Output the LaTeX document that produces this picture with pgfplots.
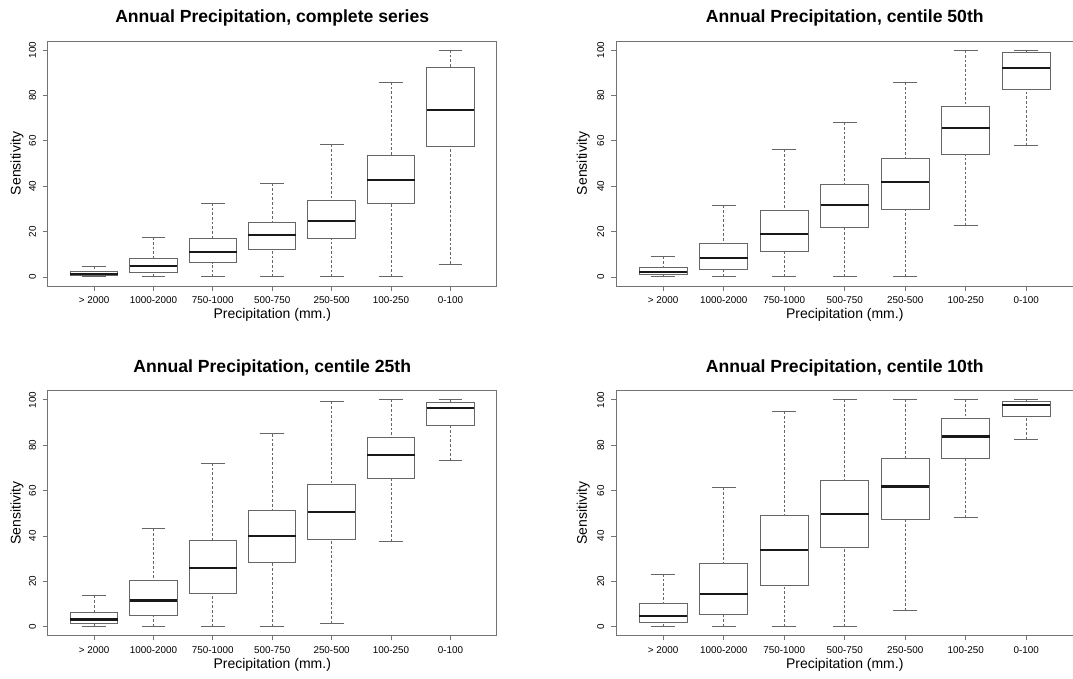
\documentclass[border=0pt]{standalone}
\usepackage{fontspec}
\setmainfont{Liberation Sans}
\usepackage{pgfplots}
\pgfplotsset{compat=1.18}
\usepgfplotslibrary{statistics}
\pgfplotsset{
  boxplot/draw/lower whisker/.code={%
    \draw[black!60, dash pattern=on 2pt off 1.5pt, line width=0.6pt]
      (boxplot box cs:\pgfplotsboxplotvalue{lower whisker},0.5) --
      (boxplot box cs:\pgfplotsboxplotvalue{lower quartile},0.5);
    \draw[black!60, line width=0.7pt]
      (boxplot whisker cs:\pgfplotsboxplotvalue{lower whisker},0) --
      (boxplot whisker cs:\pgfplotsboxplotvalue{lower whisker},1);
  },
  boxplot/draw/upper whisker/.code={%
    \draw[black!60, dash pattern=on 2pt off 1.5pt, line width=0.6pt]
      (boxplot box cs:\pgfplotsboxplotvalue{upper whisker},0.5) --
      (boxplot box cs:\pgfplotsboxplotvalue{upper quartile},0.5);
    \draw[black!60, line width=0.7pt]
      (boxplot whisker cs:\pgfplotsboxplotvalue{upper whisker},0) --
      (boxplot whisker cs:\pgfplotsboxplotvalue{upper whisker},1);
  },
  rbox/.style={
    scale only axis, height=183.75pt,
    xmin=0.22, xmax=7.78, ymin=-4, ymax=104,
    xtick={1,2,3,4,5,6,7},
    xticklabels={> 2000,1000-2000,750-1000,500-750,250-500,100-250,0-100},
    ytick={0,20,40,60,80,100},
    tick pos=left, tick align=outside, major tick length=3.5pt,
    axis line style={black!55, line width=0.7pt},
    tick style={black!55, line width=0.6pt},
    /pgf/number format/assume math mode=true,
    tick label style={font=\fontsize{7.4}{8}\selectfont},
    xticklabel style={anchor=center, yshift=-7pt},
    yticklabel style={xshift=-8pt, rotate=90, anchor=center},
    every axis title shift=0pt,
    title style={at={(rel axis cs:0.5,1.094)}, anchor=center, font=\fontsize{13.2}{15}\selectfont\bfseries},
    xlabel={Precipitation (mm.)},
    ylabel={Sensitivity},
    label style={font=\fontsize{10.5}{12}\selectfont},
    xlabel style={at={(rel axis cs:0.5,-0.118)}, anchor=center},
    clip=false,
    boxplot/draw direction=y,
    boxplot/box extend=0.8,
    boxplot/whisker extend=0.4,
    boxplot/every box/.style={draw=black!60, line width=0.75pt},
    boxplot/every median/.style={draw=black!90, line width=1.7pt},
  },
}
\begin{document}
\begin{tikzpicture}
\useasboundingbox (0,0) rectangle (804.75pt,508.5pt);
% Panel 1
\begin{axis}[rbox, at={(35.8pt,294pt)}, anchor=south west, width=336.75pt,
  title={Annual Precipitation, complete series},
  ylabel style={at={(rel axis cs:-0.0684,0.5)}, anchor=center}]
\addplot[boxplot prepared={draw position=1, lower whisker=0, lower quartile=0.7, median=1.3, upper quartile=2.3, upper whisker=4.8}] coordinates {};
\addplot[boxplot prepared={draw position=2, lower whisker=0, lower quartile=1.9, median=4.7, upper quartile=8.2, upper whisker=17.5}] coordinates {};
\addplot[boxplot prepared={draw position=3, lower whisker=0, lower quartile=6.3, median=11.0, upper quartile=16.9, upper whisker=32.6}] coordinates {};
\addplot[boxplot prepared={draw position=4, lower whisker=0, lower quartile=12.2, median=18.6, upper quartile=23.9, upper whisker=41.3}] coordinates {};
\addplot[boxplot prepared={draw position=5, lower whisker=0, lower quartile=17.0, median=24.8, upper quartile=33.5, upper whisker=58.4}] coordinates {};
\addplot[boxplot prepared={draw position=6, lower whisker=0.15, lower quartile=32.2, median=42.7, upper quartile=53.5, upper whisker=85.9}] coordinates {};
\addplot[boxplot prepared={draw position=7, lower whisker=5.7, lower quartile=57.6, median=73.6, upper quartile=92.2, upper whisker=100}] coordinates {};
\end{axis}
% Panel 2
\begin{axis}[rbox, at={(462pt,294pt)}, anchor=south west, width=343.1pt,
  title={Annual Precipitation, centile 50th},
  ylabel style={at={(rel axis cs:-0.0715,0.5)}, anchor=center}]
\addplot[boxplot prepared={draw position=1, lower whisker=0, lower quartile=1.0, median=2.2, upper quartile=4.3, upper whisker=9.1}] coordinates {};
\addplot[boxplot prepared={draw position=2, lower whisker=0, lower quartile=3.4, median=8.4, upper quartile=14.7, upper whisker=31.6}] coordinates {};
\addplot[boxplot prepared={draw position=3, lower whisker=0, lower quartile=11.2, median=18.9, upper quartile=29.2, upper whisker=56.2}] coordinates {};
\addplot[boxplot prepared={draw position=4, lower whisker=0, lower quartile=21.7, median=31.7, upper quartile=40.8, upper whisker=68.1}] coordinates {};
\addplot[boxplot prepared={draw position=5, lower whisker=0.3, lower quartile=29.7, median=41.7, upper quartile=52.0, upper whisker=85.8}] coordinates {};
\addplot[boxplot prepared={draw position=6, lower whisker=22.6, lower quartile=54.0, median=65.6, upper quartile=75.0, upper whisker=99.9}] coordinates {};
\addplot[boxplot prepared={draw position=7, lower whisker=57.9, lower quartile=82.7, median=92.2, upper quartile=99.0, upper whisker=100}] coordinates {};
\end{axis}
% Panel 3
\begin{axis}[rbox, at={(35.8pt,31.7pt)}, anchor=south west, width=336.75pt,
  title={Annual Precipitation, centile 25th},
  ylabel style={at={(rel axis cs:-0.0684,0.5)}, anchor=center}]
\addplot[boxplot prepared={draw position=1, lower whisker=0, lower quartile=1.3, median=3.1, upper quartile=6.2, upper whisker=13.7}] coordinates {};
\addplot[boxplot prepared={draw position=2, lower whisker=0, lower quartile=4.8, median=11.5, upper quartile=20.3, upper whisker=43.2}] coordinates {};
\addplot[boxplot prepared={draw position=3, lower whisker=0, lower quartile=14.7, median=25.7, upper quartile=37.9, upper whisker=72.1}] coordinates {};
\addplot[boxplot prepared={draw position=4, lower whisker=0, lower quartile=28.2, median=39.9, upper quartile=51.2, upper whisker=85.0}] coordinates {};
\addplot[boxplot prepared={draw position=5, lower whisker=1.5, lower quartile=38.3, median=50.7, upper quartile=62.8, upper whisker=99.4}] coordinates {};
\addplot[boxplot prepared={draw position=6, lower whisker=37.4, lower quartile=65.3, median=75.6, upper quartile=83.6, upper whisker=100}] coordinates {};
\addplot[boxplot prepared={draw position=7, lower whisker=73.1, lower quartile=88.7, median=96.3, upper quartile=99.0, upper whisker=100}] coordinates {};
\end{axis}
% Panel 4
\begin{axis}[rbox, at={(462pt,31.7pt)}, anchor=south west, width=343.1pt,
  title={Annual Precipitation, centile 10th},
  ylabel style={at={(rel axis cs:-0.0715,0.5)}, anchor=center}]
\addplot[boxplot prepared={draw position=1, lower whisker=0, lower quartile=1.9, median=4.6, upper quartile=10.3, upper whisker=23.2}] coordinates {};
\addplot[boxplot prepared={draw position=2, lower whisker=0, lower quartile=5.4, median=14.4, upper quartile=27.9, upper whisker=61.4}] coordinates {};
\addplot[boxplot prepared={draw position=3, lower whisker=0, lower quartile=18.2, median=33.9, upper quartile=48.9, upper whisker=94.9}] coordinates {};
\addplot[boxplot prepared={draw position=4, lower whisker=0, lower quartile=34.9, median=49.8, upper quartile=64.3, upper whisker=100}] coordinates {};
\addplot[boxplot prepared={draw position=5, lower whisker=7.0, lower quartile=47.4, median=61.8, upper quartile=74.3, upper whisker=100}] coordinates {};
\addplot[boxplot prepared={draw position=6, lower whisker=48.2, lower quartile=74.3, median=83.8, upper quartile=91.6, upper whisker=100}] coordinates {};
\addplot[boxplot prepared={draw position=7, lower whisker=82.5, lower quartile=92.5, median=97.7, upper quartile=99.3, upper whisker=100}] coordinates {};
\end{axis}
\end{tikzpicture}
\end{document}
